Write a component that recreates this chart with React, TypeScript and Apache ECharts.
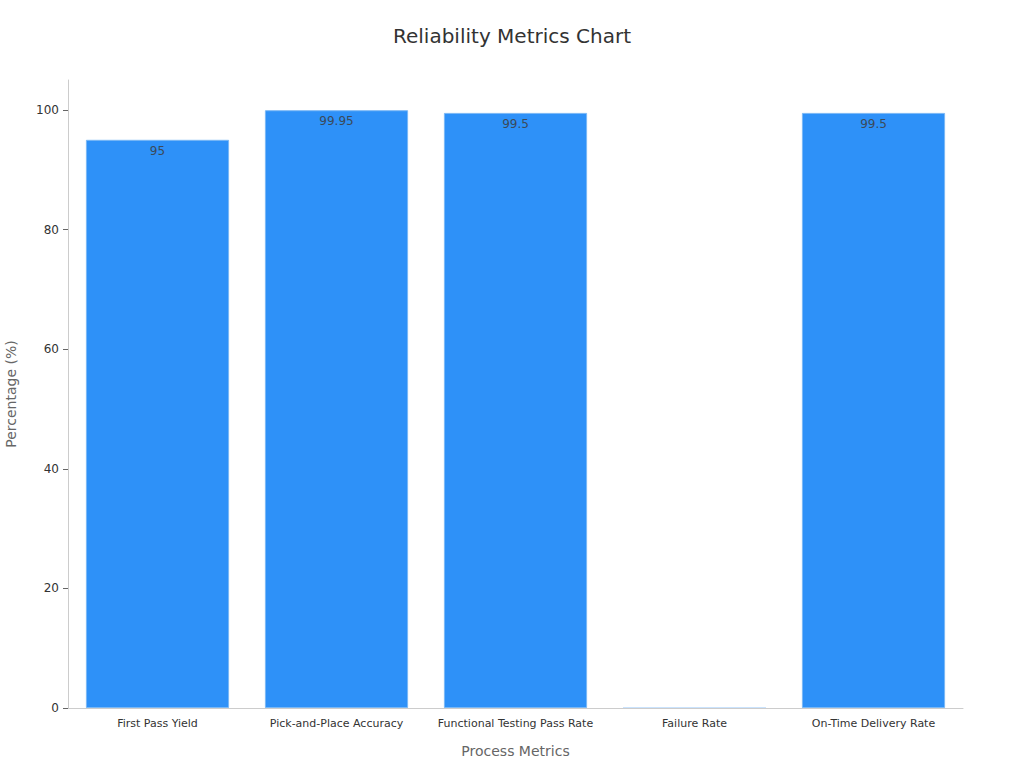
import * as echarts from 'echarts';
import { useEffect, useRef } from 'react';

const categories = [
    'First Pass Yield',
    'Pick-and-Place Accuracy',
    'Functional Testing Pass Rate',
    'Failure Rate',
    'On-Time Delivery Rate',
];
const values = [95, 99.95, 99.5, 0.05, 99.5];
const yTicks = [0, 20, 40, 60, 80, 100];

const FONT = "'DejaVu Sans', sans-serif";

export default function App() {
    const chartRef = useRef<HTMLDivElement>(null);

    useEffect(() => {
        document.body.style.margin = '0';
        if (!chartRef.current) return;

        const chart = echarts.init(chartRef.current, undefined, { renderer: 'svg' });

        const option: echarts.EChartsOption = {
            animation: false,
            textStyle: { fontFamily: FONT },
            title: {
                text: 'Reliability Metrics Chart',
                left: 'center',
                top: 21,
                textStyle: {
                    fontFamily: FONT,
                    fontSize: 20,
                    fontWeight: 'normal',
                    color: '#333',
                },
            },
            grid: {
                left: 68,
                right: 61,
                top: 80,
                bottom: 60,
                outerBoundsMode: 'none',
            } as any,
            xAxis: {
                type: 'category',
                data: categories,
                name: 'Process Metrics',
                nameLocation: 'middle',
                nameGap: 36,
                nameTextStyle: { fontFamily: FONT, fontSize: 14, color: '#666' },
                axisLine: { lineStyle: { color: '#ccc' } },
                axisTick: { alignWithLabel: true, length: 5, lineStyle: { color: '#333' } },
                axisLabel: { interval: 0, fontFamily: FONT, fontSize: 11, color: '#333', margin: 10 },
            },
            yAxis: {
                type: 'value',
                min: 0,
                max: 105,
                interval: 20,
                name: 'Percentage (%)',
                nameLocation: 'middle',
                nameGap: 50,
                nameTextStyle: { fontFamily: FONT, fontSize: 14, color: '#666' },
                axisLine: { show: true, lineStyle: { color: '#ccc' } },
                axisTick: {
                    show: true,
                    length: 5,
                    lineStyle: { color: '#666' },
                    customValues: yTicks,
                },
                axisLabel: {
                    fontFamily: FONT,
                    fontSize: 12,
                    color: '#333',
                    margin: 9,
                    customValues: yTicks,
                },
                splitLine: { show: false },
            },
            series: [
                {
                    type: 'bar',
                    barCategoryGap: '20%',
                    data: values.map((v) => ({
                        value: v,
                        label: { show: v > 1 },
                        itemStyle: v > 1 ? {} : { borderWidth: 0 },
                    })),
                    itemStyle: {
                        color: '#2e91f8',
                        borderColor: '#7ab8f5',
                        borderWidth: 1,
                    },
                    label: {
                        show: true,
                        position: 'insideTop',
                        distance: 5,
                        fontFamily: FONT,
                        fontSize: 12,
                        color: '#3b4a5a',
                    },
                },
            ],
        };

        chart.setOption(option);

        const handleResize = () => chart.resize();
        window.addEventListener('resize', handleResize);

        return () => {
            chart.dispose();
            window.removeEventListener('resize', handleResize);
        };
    }, []);

    return <div ref={chartRef} style={{ width: '1024px', height: '768px' }} />;
}
